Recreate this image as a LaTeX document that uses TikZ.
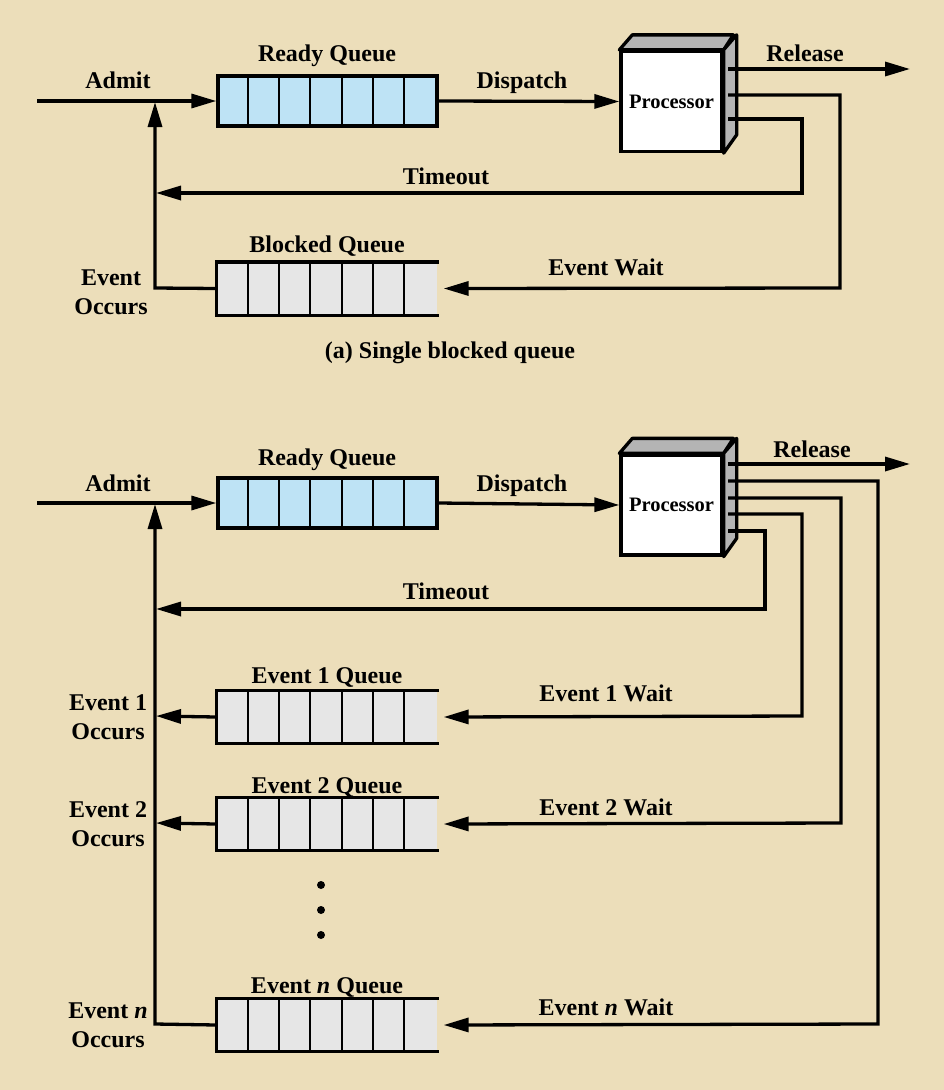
\documentclass[tikz,border=0pt]{standalone}
\usepackage{fontspec}
\setmainfont{Liberation Serif}
\usetikzlibrary{arrows.meta}
\definecolor{bgcol}{RGB}{236,222,186}
\definecolor{qblue}{RGB}{190,227,245}
\definecolor{qgray}{RGB}{230,230,230}
\definecolor{sidegray}{RGB}{180,180,180}
\begin{document}
\begin{tikzpicture}[x=1pt,y=-1pt,line width=3.3pt,
  >={Triangle[length=25pt,width=14pt]},
  lbl/.style={font=\fontsize{24}{28}\selectfont\bfseries,inner sep=0pt,text height=16pt,text depth=0pt},
  lbl2/.style={font=\fontsize{24}{29}\selectfont\bfseries,inner sep=0pt,align=center},
  readyq/.style={draw,fill=qblue,minimum width=219pt,minimum height=50pt,inner sep=0pt,line width=3.3pt},
  grayq/.style={fill=qgray,minimum width=219pt,minimum height=50pt,inner sep=0pt},
  divider/.style={line width=2pt},
  proc/.style={draw,fill=white,minimum width=101pt,minimum height=100pt,inner sep=0pt,font=\fontsize{20.5}{24}\selectfont\bfseries},
  face/.style={draw,fill=sidegray,line join=round}]
\fill[bgcol] (0,0) rectangle (944,1090);
\useasboundingbox (0,0) rectangle (944,1090);

% ================= (a) =================
\node[readyq] (rq1) at (327.5,101) {};
\foreach \i in {1,...,6}
  \draw[divider] ([xshift=\i*31.3pt]rq1.north west) -- ([xshift=\i*31.3pt]rq1.south west);
\node[grayq] (bq) at (327.5,288.5) {};
\foreach \i in {1,...,6}
  \draw[divider] ([xshift=\i*31.3pt]bq.north west) -- ([xshift=\i*31.3pt]bq.south west);
\draw (bq.north east) -- (bq.north west) -- (bq.south west) -- (bq.south east);

\node[proc] (p1) at (671.5,101.5) {Processor};
\draw[face] (p1.north west) -- ++(13,-15) -- ++(101,0) -- (p1.north east) -- cycle;
\draw[face] (p1.north east) -- ++(13,-15) -- ++(0,100) -- (p1.south east) -- cycle;

\coordinate (in1) at (37,101);
\coordinate (r1) at (728,69);
\coordinate (rel1) at (910,69);
\coordinate (w1) at (728,95);
\coordinate (w1c) at (840,288);
\coordinate (t1) at (728,119);
\coordinate (t1c) at (802,193);
\coordinate (t1e) at (156,193);
\coordinate (eo1) at (155,288);
\coordinate (eo1e) at (155,102);

\draw[->] (in1) -- (rq1.west);
\draw[->] (rq1.east) -- (p1.west);
\draw[->] (r1) -- (rel1);
\draw[->] (w1) -| (w1c) -- ([xshift=5pt]bq.east);
\draw[->] (t1) -| (t1c) -- (t1e);
\draw[->] (bq.west) -- (eo1) -- (eo1e);

\node[lbl] at (118,80) {Admit};
\node[lbl] at (327,53) {Ready Queue};
\node[lbl] at (522,80) {Dispatch};
\node[lbl] at (805,53) {Release};
\node[lbl] at (446,176) {Timeout};
\node[lbl] at (327,244) {Blocked Queue};
\node[lbl] at (606,267) {Event Wait};
\node[lbl2] at (111,292) {Event\\Occurs};
\node[lbl] at (450,350) {(a) Single blocked queue};

% ================= (b) =================
\node[readyq] (rq2) at (327.5,503) {};
\foreach \i in {1,...,6}
  \draw[divider] ([xshift=\i*31.3pt]rq2.north west) -- ([xshift=\i*31.3pt]rq2.south west);

\node[grayq] (eq1) at (327.5,717) {};
\node[grayq] (eq2) at (327.5,824) {};
\node[grayq] (eqn) at (327.5,1025) {};
\foreach \q in {eq1,eq2,eqn}{
  \foreach \i in {1,...,6}
    \draw[divider] ([xshift=\i*31.3pt]\q.north west) -- ([xshift=\i*31.3pt]\q.south west);
  \draw (\q.north east) -- (\q.north west) -- (\q.south west) -- (\q.south east);
}

\node[proc] (p2) at (671.5,505) {Processor};
\draw[face] (p2.north west) -- ++(13,-15) -- ++(101,0) -- (p2.north east) -- cycle;
\draw[face] (p2.north east) -- ++(13,-15) -- ++(0,100) -- (p2.south east) -- cycle;

\coordinate (in2) at (37,503);
\coordinate (r2) at (728,464);
\coordinate (rel2) at (910,464);
\coordinate (wn) at (728,481);
\coordinate (wnc) at (878,1024);
\coordinate (w2) at (728,498);
\coordinate (w2c) at (841,823);
\coordinate (w1b) at (728,514);
\coordinate (w1bc) at (802,716);
\coordinate (t2) at (728,531);
\coordinate (t2c) at (765,609);
\coordinate (t2e) at (156,609);
\coordinate (o1) at (156,716);
\coordinate (o2) at (156,823);
\coordinate (on) at (155,1024);
\coordinate (one) at (155,504);

\draw[->] (in2) -- (rq2.west);
\draw[->] (rq2.east) -- (p2.west);
\draw[->] (r2) -- (rel2);
\draw[->] (wn) -| (wnc) -- ([xshift=5pt]eqn.east);
\draw[->] (w2) -| (w2c) -- ([xshift=5pt]eq2.east);
\draw[->] (w1b) -| (w1bc) -- ([xshift=5pt]eq1.east);
\draw[->] (t2) -| (t2c) -- (t2e);
\draw[->] (eq1.west) -- (o1);
\draw[->] (eq2.west) -- (o2);
\draw[->] (eqn.west) -- (on) -- (one);

\foreach \yy [count=\k] in {885,910,935}
  \fill (321,\yy) circle (4pt) coordinate (dot\k);

\node[lbl] at (118,483) {Admit};
\node[lbl] at (327,457) {Ready Queue};
\node[lbl] at (522,483) {Dispatch};
\node[lbl] at (812,449) {Release};
\node[lbl] at (446,591) {Timeout};
\node[lbl] at (327,675) {Event 1 Queue};
\node[lbl] at (327,785) {Event 2 Queue};
\node[lbl] at (327,985) {Event \textit{n} Queue};
\node[lbl] at (606,693) {Event 1 Wait};
\node[lbl] at (606,807) {Event 2 Wait};
\node[lbl] at (606,1007) {Event \textit{n} Wait};
\node[lbl2] at (108,717) {Event 1\\Occurs};
\node[lbl2] at (108,824) {Event 2\\Occurs};
\node[lbl2] at (108,1025) {Event \textit{n}\\Occurs};
\end{tikzpicture}
\end{document}
